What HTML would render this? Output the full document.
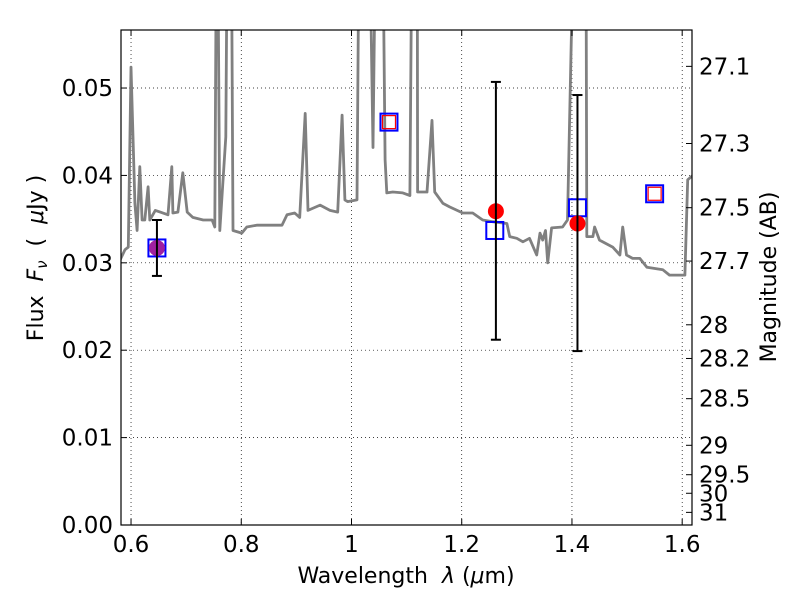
<!DOCTYPE html>
<html><head><meta charset="utf-8"><style>
html,body{margin:0;padding:0;background:#fff;}
svg{display:block;font-family:"DejaVu Sans","Liberation Sans",sans-serif;}
</style></head><body>
<svg id="chart" width="800" height="600"></svg>
<script>
const specWl=[0.580,0.589,0.595,0.600,0.607,0.611,0.616,0.620,0.625,0.631,0.634,0.644,0.653,0.667,0.674,0.676,0.685,0.694,0.702,0.712,0.731,0.747,0.752,0.756,0.761,0.772,0.776,0.781,0.785,0.801,0.810,0.828,0.847,0.874,0.883,0.897,0.906,0.916,0.921,0.943,0.961,0.975,0.983,0.988,0.993,1.010,1.015,1.030,1.039,1.046,1.055,1.061,1.064,1.075,1.093,1.106,1.111,1.119,1.120,1.137,1.146,1.151,1.166,1.178,1.202,1.220,1.238,1.256,1.282,1.287,1.300,1.311,1.323,1.336,1.342,1.347,1.352,1.356,1.363,1.383,1.392,1.407,1.425,1.427,1.438,1.441,1.450,1.474,1.487,1.492,1.499,1.510,1.523,1.536,1.565,1.577,1.605,1.610,1.619];
const specFlux=[0.0303,0.0315,0.0318,0.0524,0.0368,0.0337,0.0410,0.0349,0.0349,0.0387,0.0349,0.0360,0.0358,0.0355,0.0410,0.0357,0.0358,0.0403,0.0358,0.0352,0.0349,0.0349,0.0341,0.08,0.0337,0.0444,0.08,0.08,0.0337,0.0334,0.0341,0.0343,0.0343,0.0343,0.0355,0.0357,0.0352,0.0471,0.0360,0.0366,0.0360,0.0358,0.0469,0.0372,0.0370,0.0372,0.08,0.08,0.0432,0.08,0.08,0.0418,0.0380,0.0381,0.0380,0.0377,0.08,0.08,0.0381,0.0381,0.0463,0.0381,0.0368,0.0364,0.0357,0.0357,0.0349,0.0347,0.0345,0.0330,0.0328,0.0324,0.0328,0.0309,0.0334,0.0326,0.0337,0.0300,0.0340,0.0341,0.0349,0.08,0.08,0.0330,0.0330,0.0341,0.0326,0.0318,0.0309,0.0341,0.0309,0.0305,0.0305,0.0295,0.0292,0.0286,0.0286,0.0395,0.0400];
const obsWl=[0.647,1.262,1.410];
const obsFlux=[0.0317,0.0359,0.0345];
const obsErrLo=[0.0285,0.0212,0.0199];
const obsErrHi=[0.0349,0.0507,0.0492];
const obsColors=['#a020a0','#ff0000','#ff0000'];
const modelWl=[0.647,1.068,1.260,1.410,1.550];
const modelFlux=[0.0317,0.0461,0.0337,0.0363,0.0379];
const modelInner=[false,true,false,false,true];
const xTicks=[0.6,0.8,1.0,1.2,1.4,1.6];
const xTickLabels=['0.6','0.8','1','1.2','1.4','1.6'];
const yTicks=[0,0.01,0.02,0.03,0.04,0.05];
const yTickLabels=['0.00','0.01','0.02','0.03','0.04','0.05'];
const magTicks=[27.1,27.3,27.5,27.7,28,28.2,28.5,29,29.5,30,31];
const magLabels=['27.1','27.3','27.5','27.7','28','28.2','28.5','29','29.5','30','31'];

const L=121,R=692,T=30,B=525;
const X0=0.5818,X1=1.6178,Y0=0,Y1=0.05664;
const sx=v=>L+(v-X0)/(X1-X0)*(R-L);
const sy=v=>B-(v-Y0)/(Y1-Y0)*(B-T);
const NS='http://www.w3.org/2000/svg';
const svg=document.getElementById('chart');
function mk(tag,attrs,parent){const e=document.createElementNS(NS,tag);for(const k in attrs)e.setAttribute(k,attrs[k]);(parent||svg).appendChild(e);return e;}

const defs=mk('defs',{});
const cp=mk('clipPath',{id:'pc'},defs);mk('rect',{x:L,y:T,width:R-L,height:B-T},cp);

const grid=mk('g',{});


xTicks.forEach(v=>mk('line',{x1:sx(v),x2:sx(v),y1:T,y2:B,stroke:'#000','stroke-width':0.7,'stroke-dasharray':'1,3'},grid));
yTicks.forEach(v=>mk('line',{x1:L,x2:R,y1:sy(v),y2:sy(v),stroke:'#000','stroke-width':0.7,'stroke-dasharray':'1,3'},grid));

let d='';specWl.forEach((w,i)=>{d+=(i?'L':'M')+sx(w).toFixed(1)+','+sy(specFlux[i]).toFixed(1);});
const sp=mk('path',{d:d,fill:'none',stroke:'#808080','stroke-width':2.8,'stroke-linejoin':'round','clip-path':'url(#pc)'});



modelWl.forEach((w,i)=>{
  const g=mk('g',{});
  
  
  const x=sx(w),y=sy(modelFlux[i]);
  mk('rect',{x:x-8.5,y:y-8.5,width:17,height:17,fill:'none',stroke:'#0000ff','stroke-width':2},g);
  if(modelInner[i])mk('rect',{x:x-6.5,y:y-6.5,width:13,height:13,fill:'none',stroke:'#ff0000','stroke-width':1.2},g);
});

obsWl.forEach((w,i)=>{
  const g=mk('g',{});
  
  
  const x=sx(w);
  mk('circle',{cx:x,cy:sy(obsFlux[i]),r:8,fill:obsColors[i]},g);
  mk('line',{x1:x,x2:x,y1:sy(obsErrLo[i]),y2:sy(obsErrHi[i]),stroke:'#000','stroke-width':2},g);
  mk('line',{x1:x-5,x2:x+5,y1:sy(obsErrLo[i]),y2:sy(obsErrLo[i]),stroke:'#000','stroke-width':2},g);
  mk('line',{x1:x-5,x2:x+5,y1:sy(obsErrHi[i]),y2:sy(obsErrHi[i]),stroke:'#000','stroke-width':2},g);
});

const fr=mk('rect',{x:L,y:T,width:R-L,height:B-T,fill:'none',stroke:'#000','stroke-width':1.2});



xTicks.forEach((v,i)=>{
  mk('line',{x1:sx(v),x2:sx(v),y1:B,y2:B-6,stroke:'#000'});
  mk('line',{x1:sx(v),x2:sx(v),y1:T,y2:T+6,stroke:'#000'});
  const t=mk('text',{x:sx(v),y:B+27,'font-size':23,'text-anchor':'middle'});
  t.textContent=xTickLabels[i];
  
  
});
yTicks.forEach((v,i)=>{
  mk('line',{x1:L,x2:L+6,y1:sy(v),y2:sy(v),stroke:'#000'});
  const t=mk('text',{x:L-8,y:sy(v)+8,'font-size':23,'text-anchor':'end'});
  t.textContent=yTickLabels[i];
  
  
});
magTicks.forEach((m,i)=>{
  const y=sy(Math.pow(10,(23.9-m)/2.5));
  mk('line',{x1:R,x2:R-6,y1:y,y2:y,stroke:'#000'});
  const t=mk('text',{x:R+7,y:y+8,'font-size':23,'text-anchor':'start'});
  t.textContent=magLabels[i];
  
  
});

const xt=mk('text',{x:406,y:583,'font-size':22,'text-anchor':'middle'});
xt.innerHTML='Wavelength\u00a0\u00a0<tspan font-style="italic">λ</tspan>\u00a0(<tspan font-style="italic">μ</tspan>m)';


const yt=mk('text',{x:0,y:0,'font-size':22,'text-anchor':'middle',transform:'translate(43,258) rotate(-90)'});
yt.innerHTML='Flux\u00a0\u00a0<tspan font-style="italic">F</tspan><tspan font-style="italic" font-size="15" dy="4">ν</tspan><tspan dy="-4">\u00a0\u00a0(\u00a0\u00a0</tspan><tspan font-style="italic">μ</tspan>Jy\u00a0)';


const rt=mk('text',{x:0,y:0,'font-size':22,'text-anchor':'middle',transform:'translate(776,277) rotate(-90)'});
rt.textContent='Magnitude (AB)';


</script>
</body></html>
